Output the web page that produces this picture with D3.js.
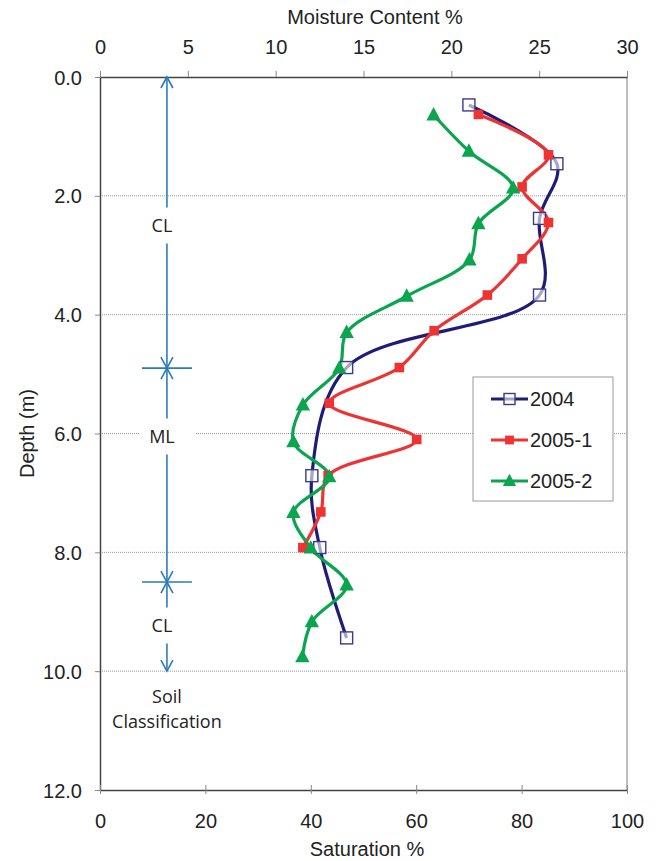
<!DOCTYPE html>
<html>
<head>
<meta charset="utf-8">
<script src="https://cdn.jsdelivr.net/npm/d3@7"></script>
<style>
  body { margin: 0; background: #fff; }
  svg text { font-family: "Liberation Sans", Arial, sans-serif; fill: #222; }
  svg text.soil { font-family: "Open Sans", "Noto Sans", sans-serif; }
</style>
</head>
<body>
<div id="chart"></div>
<script>
// depth (m) and saturation (%)
const depth2004 = [0.47, 1.46, 2.38, 3.67, 4.89, 6.71, 7.92, 9.44];
const sat2004   = [70.0, 86.7, 83.4, 83.4, 46.8, 40.2, 41.7, 46.8];

const depth20051 = [0.63, 1.31, 1.85, 2.45, 3.06, 3.67, 4.27, 4.89, 5.49, 6.10, 6.71, 7.32, 7.92];
const sat20051   = [71.8, 85.1, 80.1, 85.1, 80.1, 73.5, 63.4, 56.8, 43.5, 60.1, 43.3, 41.9, 38.5];

const depth20052 = [0.64, 1.25, 1.87, 2.47, 3.08, 3.69, 4.30, 4.90, 5.52, 6.14, 6.73, 7.33, 7.93, 8.55, 9.17, 9.76];
const sat20052   = [63.3, 70.0, 78.4, 71.8, 70.1, 58.2, 46.8, 45.4, 38.5, 36.7, 43.5, 36.7, 40.0, 46.8, 40.2, 38.4];

const depthTicks = [0, 2, 4, 6, 8, 10, 12];
const satTicks = [0, 20, 40, 60, 80, 100];
const moistTicks = [0, 5, 10, 15, 20, 25, 30];

// soil classification layers
const soilLayers = [
  { top: 0, bottom: 4.9, label: "CL", labelDepth: 2.5 },
  { top: 4.9, bottom: 8.5, label: "ML", labelDepth: 6.05 },
  { top: 8.5, bottom: 10.0, label: "CL", labelDepth: 9.23 }
];
const soilSat = 12.7;

const series = [
  { name: "2004", depth: depth2004, sat: sat2004, color: "#1f1c78", marker: "open" },
  { name: "2005-1", depth: depth20051, sat: sat20051, color: "#ee3333", marker: "square" },
  { name: "2005-2", depth: depth20052, sat: sat20052, color: "#0aa54e", marker: "triangle" }
];

const W = 659, H = 861;
const margin = { top: 77, right: 32, bottom: 71, left: 100 };
const width = W - margin.left - margin.right;
const height = H - margin.top - margin.bottom;

const svg = d3.select("#chart").append("svg")
  .attr("width", W)
  .attr("height", H);

const g = svg.append("g")
  .attr("transform", `translate(${margin.left},${margin.top})`);

const x = d3.scaleLinear().domain([0, 100]).range([0, width]);
const xTop = d3.scaleLinear().domain([0, 30]).range([0, width]);
const y = d3.scaleLinear().domain([0, 12]).range([0, height]);

// gridlines
g.append("g")
  .selectAll("line")
  .data(depthTicks.filter(d => d > 0 && d < 12))
  .enter().append("line")
  .attr("x1", 0).attr("x2", width)
  .attr("y1", d => y(d)).attr("y2", d => y(d))
  .attr("stroke", "#999")
  .attr("stroke-width", 1)
  .attr("stroke-dasharray", "1,1");

// right border
g.append("line")
  .attr("x1", width).attr("x2", width)
  .attr("y1", 0).attr("y2", height)
  .attr("stroke", "#aaa").attr("stroke-width", 1.5);

// axes
const axisLeft = g.append("g")
  .call(d3.axisLeft(y).tickValues(depthTicks).tickFormat(d3.format(".1f")).tickSize(5).tickSizeOuter(0));
const axisBottom = g.append("g")
  .attr("transform", `translate(0,${height})`)
  .call(d3.axisBottom(x).tickValues(satTicks).tickSize(4).tickSizeOuter(0));
const axisTop = g.append("g")
  .call(d3.axisTop(xTop).tickValues(moistTicks).tickSize(6).tickSizeOuter(0));

[axisLeft, axisBottom, axisTop].forEach(a => {
  a.select(".domain").attr("stroke", "#444").attr("stroke-width", 1.5);
  a.selectAll(".tick line").attr("stroke", "#888");
  a.selectAll(".tick text").style("font-size", "20px").style("fill", "#222");
});
axisLeft.selectAll(".tick text").attr("x", -18).attr("dy", "0.35em");
axisBottom.selectAll(".tick line").attr("y1", -5);
axisBottom.selectAll(".tick text").attr("y", 31).attr("dy", "0.35em");
axisTop.selectAll(".tick text").attr("y", -30).attr("dy", "0.35em");

// axis titles
svg.append("text")
  .attr("x", 375).attr("y", 17)
  .attr("dy", "0.35em")
  .attr("text-anchor", "middle")
  .style("font-size", "20px")
  .text("Moisture Content %");

svg.append("text")
  .attr("x", 367).attr("y", 849)
  .attr("dy", "0.35em")
  .attr("text-anchor", "middle")
  .style("font-size", "20px")
  .text("Saturation %");

svg.append("text")
  .attr("transform", `translate(27,${margin.top + height / 2}) rotate(-90)`)
  .attr("dy", "0.35em")
  .attr("text-anchor", "middle")
  .style("font-size", "20px")
  .text("Depth (m)");

// soil classification annotation
const soilColor = "#2b7bba";
const sx = x(soilSat);
const soil = g.append("g").attr("stroke", soilColor).attr("stroke-width", 1.6).attr("fill", "none");

function arrowHead(yy, dir) {
  // dir = -1 points up, 1 points down
  soil.append("path")
    .attr("d", `M${sx - 6},${yy - dir * 11} L${sx},${yy} L${sx + 6},${yy - dir * 11}`);
}

soilLayers.forEach(l => {
  const y0 = y(l.top), y1 = y(l.bottom), yl = y(l.labelDepth);
  soil.append("line").attr("x1", sx).attr("x2", sx).attr("y1", y0).attr("y2", yl - 18);
  soil.append("line").attr("x1", sx).attr("x2", sx).attr("y1", yl + 18).attr("y2", y1);
  arrowHead(y0, -1);
  arrowHead(y1, 1);
});
soilLayers.slice(1).forEach(l => {
  soil.append("line")
    .attr("x1", sx - 25).attr("x2", sx + 25)
    .attr("y1", y(l.top)).attr("y2", y(l.top));
});

// white backing for label on gridline
g.append("rect")
  .attr("x", 39).attr("y", y(6) - 10)
  .attr("width", 56).attr("height", 20)
  .attr("fill", "#fff");

g.selectAll("text.soil-label")
  .data(soilLayers)
  .enter().append("text")
  .attr("class", "soil")
  .attr("x", sx - 5)
  .attr("y", d => y(d.labelDepth))
  .attr("dy", "0.35em")
  .attr("text-anchor", "middle")
  .style("font-size", "18px")
  .text(d => d.label);

g.append("text")
  .attr("class", "soil")
  .attr("x", sx).attr("y", 703 - margin.top)
  .attr("text-anchor", "middle")
  .style("font-size", "18px")
  .text("Soil");
g.append("text")
  .attr("class", "soil")
  .attr("x", sx).attr("y", 728 - margin.top)
  .attr("text-anchor", "middle")
  .style("font-size", "18px")
  .text("Classification");

// series
const line = d3.line()
  .x(d => x(d[1]))
  .y(d => y(d[0]))
  .curve(d3.curveCatmullRom.alpha(0.5));

function drawMarker(sel, s, size) {
  if (s.marker === "open") {
    sel.append("rect")
      .attr("x", -size / 2).attr("y", -size / 2)
      .attr("width", size).attr("height", size)
      .attr("fill", "#fff").attr("fill-opacity", 0.6)
      .attr("stroke", "#3a3a8a").attr("stroke-width", 1.4);
  } else if (s.marker === "square") {
    sel.append("rect")
      .attr("x", -size * 0.4).attr("y", -size * 0.4)
      .attr("width", size * 0.8).attr("height", size * 0.8)
      .attr("fill", s.color);
  } else {
    const t = size * 0.6;
    sel.append("path")
      .attr("d", `M0,${-t * 1.1} L${t},${t * 0.75} L${-t},${t * 0.75} Z`)
      .attr("fill", s.color);
  }
}

series.forEach(s => {
  const pts = s.depth.map((d, i) => [d, s.sat[i]]);
  g.append("path")
    .datum(pts)
    .attr("d", line)
    .attr("fill", "none")
    .attr("stroke", s.color)
    .attr("stroke-width", 3.2);
});

series.forEach(s => {
  const pts = s.depth.map((d, i) => [d, s.sat[i]]);
  g.append("g").selectAll("g")
    .data(pts)
    .enter().append("g")
    .attr("transform", d => `translate(${x(d[1])},${y(d[0])})`)
    .each(function() { drawMarker(d3.select(this), s, 12); });
});

// legend
const legend = svg.append("g").attr("transform", "translate(473,377)");
legend.append("rect")
  .attr("width", 140).attr("height", 124)
  .attr("fill", "#fff")
  .attr("stroke", "#999").attr("stroke-width", 1);

series.forEach((s, i) => {
  const ly = 22 + i * 41;
  const row = legend.append("g").attr("transform", `translate(0,${ly})`);
  row.append("line")
    .attr("x1", 18).attr("x2", 55)
    .attr("y1", 0).attr("y2", 0)
    .attr("stroke", s.color).attr("stroke-width", 3.2);
  const m = row.append("g").attr("transform", "translate(36.5,0)");
  drawMarker(m, s, 11);
  row.append("text")
    .attr("x", 57).attr("y", 0)
    .attr("dy", "0.36em")
    .style("font-size", "20px")
    .text(s.name);
});
</script>
</body>
</html>
